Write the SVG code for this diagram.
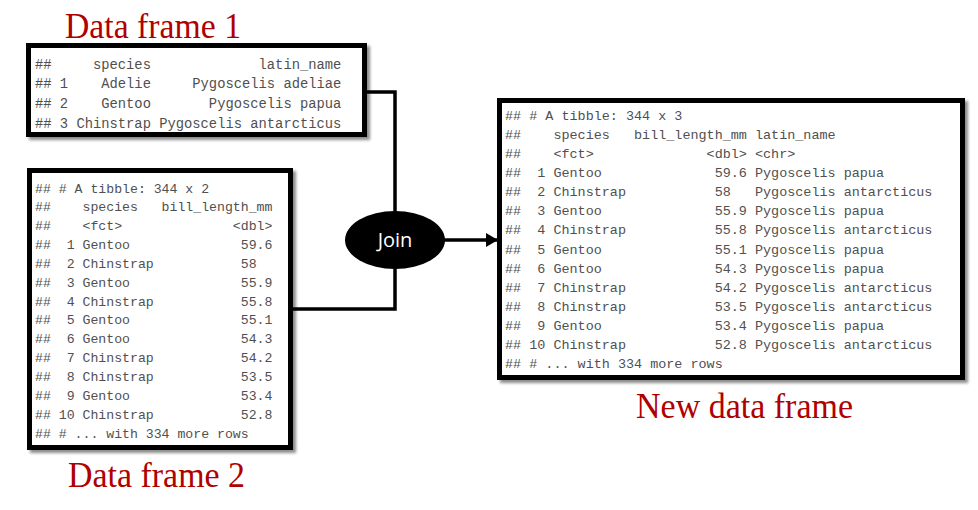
<svg xmlns="http://www.w3.org/2000/svg" width="978" height="510" viewBox="0 0 978 510">
<style>
.title{font-family:"Liberation Serif","Times New Roman",serif;fill:#b00000;font-size:35px}
.frame{fill:#fff;stroke:#000;stroke-width:5}
.code text{font-family:"Liberation Mono","Courier New",monospace;fill:#505050;white-space:pre}
.c1 text{font-size:13.8px}
.c2 text{font-size:13.2px}
.c3 text{font-size:13.45px}
.conn{fill:none;stroke:#000;stroke-width:3.5}
.join{font-family:"Open Sans","Noto Sans",sans-serif;font-size:20px;fill:#fff}
</style>
<defs>
<filter id="shadow" x="-5%" y="-5%" width="115%" height="115%">
<feDropShadow dx="3" dy="3" stdDeviation="1.5" flood-color="#000" flood-opacity="0.45"/>
</filter>
<marker id="arrow" markerUnits="userSpaceOnUse" markerWidth="12" markerHeight="14" refX="11" refY="7" orient="auto">
<path d="M0,0 L12,7 L0,14 Z" fill="#000"/>
</marker>
</defs>

<g id="connectors">
<polyline class="conn" points="366,92 395,92 395,212"/>
<polyline class="conn" points="395,268 395,309 292,309"/>
<line class="conn" x1="444" y1="240" x2="497" y2="240" marker-end="url(#arrow)"/>
</g>

<g id="df1">
<text class="title" x="65" y="38" textLength="176" lengthAdjust="spacingAndGlyphs">Data frame 1</text>
<rect class="frame" x="28.5" y="45.5" width="336" height="89" filter="url(#shadow)"/>
<g class="code c1">
<text xml:space="preserve" x="35" y="68.5">##     species             latin_name</text>
<text xml:space="preserve" x="35" y="88.2">## 1    Adelie     Pygoscelis adeliae</text>
<text xml:space="preserve" x="35" y="107.9">## 2    Gentoo       Pygoscelis papua</text>
<text xml:space="preserve" x="35" y="127.6">## 3 Chinstrap Pygoscelis antarcticus</text>
</g>
</g>

<g id="df2">
<rect class="frame" x="29.5" y="170.5" width="261" height="277" filter="url(#shadow)"/>
<g class="code c2">
<text xml:space="preserve" x="35" y="192.5">## # A tibble: 344 x 2</text>
<text xml:space="preserve" x="35" y="211.35">##    species   bill_length_mm</text>
<text xml:space="preserve" x="35" y="230.2">##    &lt;fct&gt;              &lt;dbl&gt;</text>
<text xml:space="preserve" x="35" y="249.05">##  1 Gentoo              59.6</text>
<text xml:space="preserve" x="35" y="267.9">##  2 Chinstrap           58</text>
<text xml:space="preserve" x="35" y="286.75">##  3 Gentoo              55.9</text>
<text xml:space="preserve" x="35" y="305.6">##  4 Chinstrap           55.8</text>
<text xml:space="preserve" x="35" y="324.45">##  5 Gentoo              55.1</text>
<text xml:space="preserve" x="35" y="343.3">##  6 Gentoo              54.3</text>
<text xml:space="preserve" x="35" y="362.15">##  7 Chinstrap           54.2</text>
<text xml:space="preserve" x="35" y="381">##  8 Chinstrap           53.5</text>
<text xml:space="preserve" x="35" y="399.85">##  9 Gentoo              53.4</text>
<text xml:space="preserve" x="35" y="418.7">## 10 Chinstrap           52.8</text>
<text xml:space="preserve" x="35" y="437.55">## # ... with 334 more rows</text>
</g>
<text class="title" x="68" y="487" textLength="177" lengthAdjust="spacingAndGlyphs">Data frame 2</text>
</g>

<g id="join">
<ellipse cx="395" cy="240" rx="50" ry="29" fill="#000"/>
<text class="join" x="395" y="247" text-anchor="middle">Join</text>
</g>

<g id="df3">
<rect class="frame" x="499.5" y="100.5" width="463" height="277" filter="url(#shadow)"/>
<g class="code c3">
<text xml:space="preserve" x="505" y="119.5">## # A tibble: 344 x 3</text>
<text xml:space="preserve" x="505" y="138.65">##    species   bill_length_mm latin_name</text>
<text xml:space="preserve" x="505" y="157.8">##    &lt;fct&gt;              &lt;dbl&gt; &lt;chr&gt;</text>
<text xml:space="preserve" x="505" y="176.95">##  1 Gentoo              59.6 Pygoscelis papua</text>
<text xml:space="preserve" x="505" y="196.1">##  2 Chinstrap           58   Pygoscelis antarcticus</text>
<text xml:space="preserve" x="505" y="215.25">##  3 Gentoo              55.9 Pygoscelis papua</text>
<text xml:space="preserve" x="505" y="234.4">##  4 Chinstrap           55.8 Pygoscelis antarcticus</text>
<text xml:space="preserve" x="505" y="253.55">##  5 Gentoo              55.1 Pygoscelis papua</text>
<text xml:space="preserve" x="505" y="272.7">##  6 Gentoo              54.3 Pygoscelis papua</text>
<text xml:space="preserve" x="505" y="291.85">##  7 Chinstrap           54.2 Pygoscelis antarcticus</text>
<text xml:space="preserve" x="505" y="311">##  8 Chinstrap           53.5 Pygoscelis antarcticus</text>
<text xml:space="preserve" x="505" y="330.15">##  9 Gentoo              53.4 Pygoscelis papua</text>
<text xml:space="preserve" x="505" y="349.3">## 10 Chinstrap           52.8 Pygoscelis antarcticus</text>
<text xml:space="preserve" x="505" y="368.45">## # ... with 334 more rows</text>
</g>
<text class="title" x="636" y="418" textLength="217" lengthAdjust="spacingAndGlyphs">New data frame</text>
</g>
</svg>
